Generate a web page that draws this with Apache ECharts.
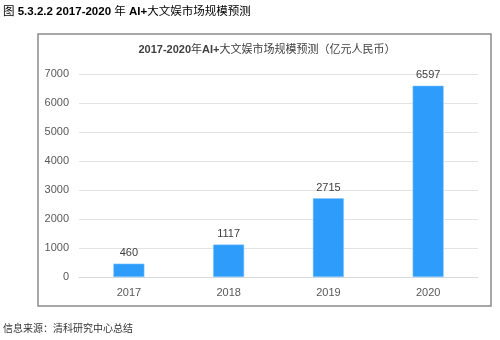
<!DOCTYPE html>
<html><head><meta charset="utf-8">
<script src="https://cdn.jsdelivr.net/npm/echarts@6/dist/echarts.min.js"></script>
<style>html,body{margin:0;padding:0;background:#fff}#c{width:500px;height:340px}</style>
</head><body><div id="c"></div>
<script>
var categories = ['2017', '2018', '2019', '2020'];
var values = [460, 1117, 2715, 6597];
var titleBold = '2017-2020';
var titleMid = '年';
var titleBold2 = 'AI+';
var titleRest = '大文娱市场规模预测（亿元人民币）';
var capPrefix = '图 ';
var capBold = '5.3.2.2 2017-2020 ';
var capMid = '年 ';
var capBold2 = 'AI+';
var capRest = '大文娱市场规模预测';
var sourceNote = '信息来源：清科研究中心总结';
var FF = "'Liberation Sans','Noto Sans CJK SC',sans-serif";
var chart = echarts.init(document.getElementById('c'), null, {renderer:'canvas'});
chart.setOption({
  animation: false,
  backgroundColor: '#fff',
  textStyle: {fontFamily: FF},
  graphic: [
    {type:'rect', shape:{x:38, y:34, width:453, height:272}, style:{fill:'none', stroke:'#8a8a8a', lineWidth:1.5}, silent:true},
    {type:'text', left:3, top:6, style:{
      text: '{n|' + capPrefix + '}{b|' + capBold + '}{n|' + capMid + '}{b|' + capBold2 + '}{n|' + capRest + '}',
      rich: {
        n: {fontSize: 11.5, fontFamily: FF, color: '#333'},
        b: {fontSize: 11.5, fontFamily: FF, fontWeight: 'bold', color: '#222'}
      }}},
    {type:'text', left:3, top:324, style:{text: sourceNote, font:'10px ' + FF, fill:'#333'}}
  ],
  title: {
    text: '{b|' + titleBold + '}{n|' + titleMid + '}{b|' + titleBold2 + '}{n|' + titleRest + '}',
    left: 262, top: 39, textAlign: 'center',
    textStyle: {
      fontSize: 11, fontWeight: 'normal', color: '#404040', fontFamily: FF,
      rich: {
        b: {fontSize: 11, fontWeight: 'bold', color: '#404040', fontFamily: FF},
        n: {fontSize: 11, fontWeight: 'normal', color: '#404040', fontFamily: FF}
      }
    }
  },
  grid: {left: 79, right: 22, top: 74, bottom: 63},
  xAxis: {
    type: 'category', data: categories,
    axisLine: {show: true, lineStyle: {color: '#d9d9d9'}},
    axisTick: {show: false},
    axisLabel: {color: '#595959', fontSize: 11, margin: 10}
  },
  yAxis: {
    type: 'value', min: 0, max: 7000, interval: 1000,
    axisLine: {show: false}, axisTick: {show: false},
    axisLabel: {color: '#595959', fontSize: 11, margin: 10, formatter: function (v) { return String(v); }},
    splitLine: {lineStyle: {color: '#e3e3e3'}}
  },
  series: [{
    type: 'bar', data: values, barWidth: 31,
    itemStyle: {color: '#2E9CFA', borderColor: '#8CC8FF', borderWidth: 0.5},
    label: {show: true, position: 'top', color: '#404040', fontSize: 11, distance: 5}
  }]
});
</script></body></html>
